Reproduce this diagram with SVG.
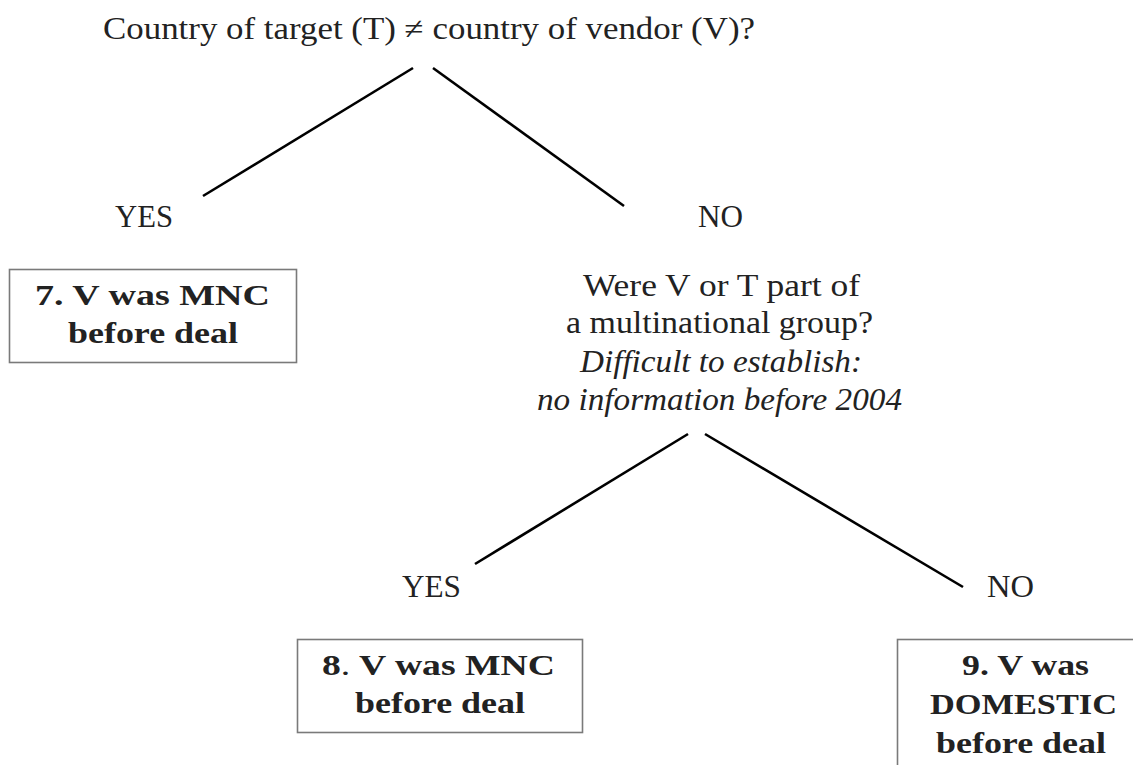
<svg xmlns="http://www.w3.org/2000/svg" width="1133" height="765" viewBox="0 0 1133 765">
<style>
text{font-family:"Liberation Serif","Times New Roman",serif;fill:#222;}
.r{font-size:31px;}
.i{font-size:31px;font-style:italic;}
.b{font-size:29px;font-weight:bold;}
.box{fill:#fff;stroke:#7a7a7a;stroke-width:1.6;}
.edge{stroke:#000;stroke-width:2.6;stroke-linecap:butt;fill:none;}
</style>
<rect width="1133" height="765" fill="#fff"/>
<g id="connectors">
<line class="edge" x1="413" y1="68" x2="203" y2="196"/>
<line class="edge" x1="433" y1="68" x2="624" y2="206"/>
<line class="edge" x1="688" y1="434" x2="475" y2="564"/>
<line class="edge" x1="705" y1="434" x2="963" y2="587"/>
</g>
<g id="q1">
<text class="r" x="103" y="39" textLength="652" lengthAdjust="spacingAndGlyphs">Country of target (T) ≠ country of vendor (V)?</text>
</g>
<g id="yes1"><text class="r" x="115" y="227" textLength="58" lengthAdjust="spacingAndGlyphs">YES</text></g>
<g id="no1"><text class="r" x="698" y="227" textLength="45" lengthAdjust="spacingAndGlyphs">NO</text></g>
<g id="q2">
<text class="r" x="583" y="296" textLength="277" lengthAdjust="spacingAndGlyphs">Were V or T part of</text>
<text class="r" x="566" y="333" textLength="307" lengthAdjust="spacingAndGlyphs">a multinational group?</text>
<text class="i" x="580" y="372" textLength="282" lengthAdjust="spacingAndGlyphs">Difficult to establish:</text>
<text class="i" x="537" y="410" textLength="365" lengthAdjust="spacingAndGlyphs">no information before 2004</text>
</g>
<g id="yes2"><text class="r" x="402" y="597" textLength="59" lengthAdjust="spacingAndGlyphs">YES</text></g>
<g id="no2"><text class="r" x="987" y="597" textLength="47" lengthAdjust="spacingAndGlyphs">NO</text></g>
<g id="n7">
<rect class="box" x="9.5" y="269.5" width="287" height="93"/>
<text class="b" x="35" y="305" textLength="235" lengthAdjust="spacingAndGlyphs">7. V was MNC</text>
<text class="b" x="68" y="343" textLength="170" lengthAdjust="spacingAndGlyphs">before deal</text>
</g>
<g id="n8">
<rect class="box" x="297.5" y="639.5" width="285" height="93"/>
<text class="b" x="322" y="675" textLength="233" lengthAdjust="spacingAndGlyphs">8<tspan font-weight="normal">.</tspan> V was MNC</text>
<text class="b" x="355" y="713" textLength="170" lengthAdjust="spacingAndGlyphs">before deal</text>
</g>
<g id="n9">
<rect class="box" x="897.5" y="639.5" width="253" height="140"/>
<text class="b" x="962" y="675" textLength="127" lengthAdjust="spacingAndGlyphs">9. V was</text>
<text class="b" x="930" y="714" textLength="187" lengthAdjust="spacingAndGlyphs">DOMESTIC</text>
<text class="b" x="936" y="753" textLength="170" lengthAdjust="spacingAndGlyphs">before deal</text>
</g>
</svg>
